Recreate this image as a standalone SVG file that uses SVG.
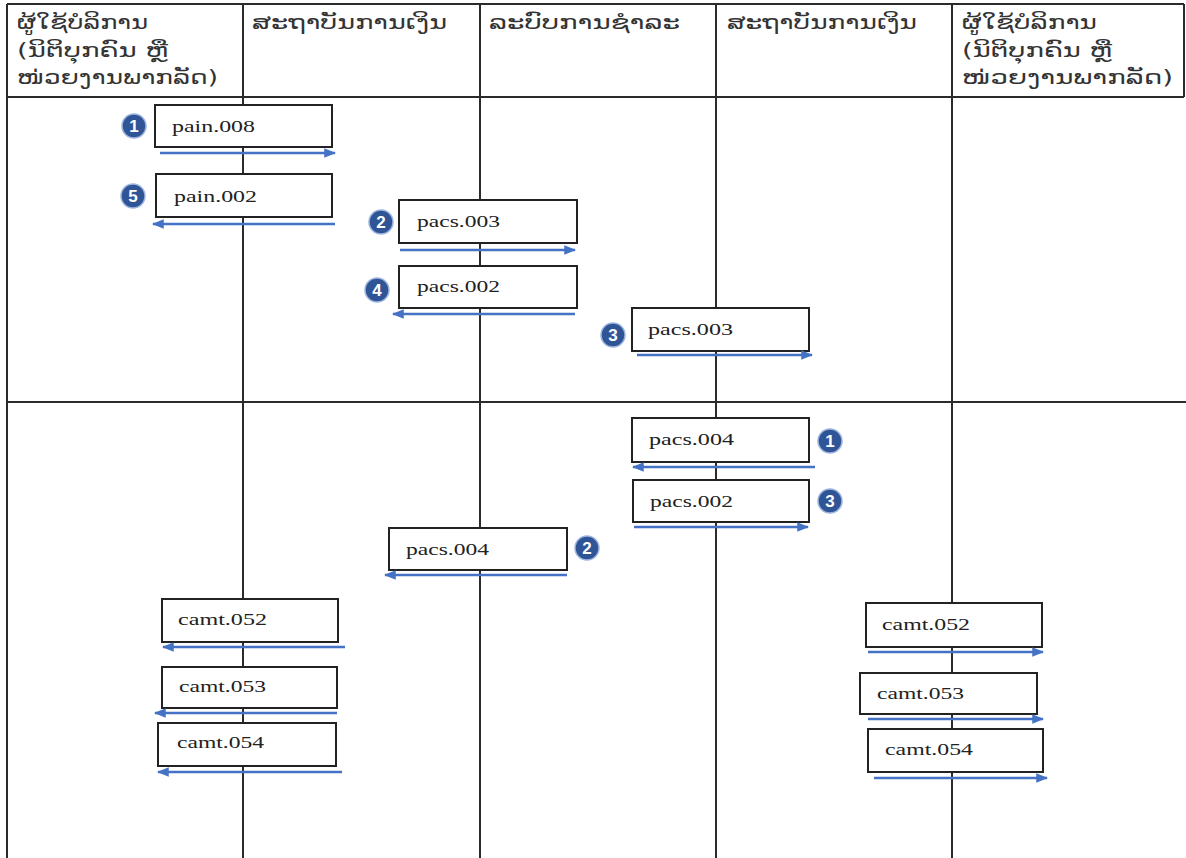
<svg xmlns="http://www.w3.org/2000/svg" width="1186" height="858" viewBox="0 0 1186 858">
<style>
.grid{stroke:#2b2b2b;stroke-width:2;fill:none}
.hdr{font-family:"DejaVu Sans",sans-serif;font-size:19px;fill:#333}
.box{fill:#fff;stroke:#222;stroke-width:2}
.lbl{font-family:"Liberation Serif",serif;font-size:17px;fill:#222}
.arr{stroke:#4472C4;stroke-width:2.6;fill:none;marker-end:url(#ah)}
.bd circle{fill:#2F5597;stroke:#9DB5E0;stroke-width:1.5}
.bd text{font-family:"Liberation Sans",sans-serif;font-size:17px;font-weight:bold;fill:#fff;text-anchor:middle}
</style>
<defs>
<marker id="ah" viewBox="0 0 10 8" refX="9" refY="4" markerWidth="4.6" markerHeight="3.7" orient="auto" markerUnits="strokeWidth">
<path d="M0,0 L10,4 L0,8 Z" fill="#4472C4"/>
</marker>
</defs>
<rect width="1186" height="858" fill="#fff"/>
<g id="table">
<line class="grid" x1="7" y1="4" x2="1184" y2="4"/>
<line class="grid" x1="7" y1="97" x2="1184" y2="97"/>
<line class="grid" x1="7" y1="402" x2="1186" y2="402"/>
<line class="grid" x1="7" y1="4" x2="7" y2="858"/>
<line class="grid" x1="1184" y1="4" x2="1184" y2="97"/>
<line class="grid" x1="243" y1="4" x2="243" y2="858"/>
<line class="grid" x1="480" y1="4" x2="480" y2="858"/>
<line class="grid" x1="716" y1="4" x2="716" y2="858"/>
<line class="grid" x1="952" y1="4" x2="952" y2="858"/>
</g>
<g id="headers">
<text class="hdr" x="17" y="29" textLength="131" lengthAdjust="spacingAndGlyphs">ຜູ້ໃຊ້ບໍລິການ</text>
<text class="hdr" x="17" y="57" textLength="151" lengthAdjust="spacingAndGlyphs">(ນິຕິບຸກຄົນ ຫຼື</text>
<text class="hdr" x="17" y="84" textLength="201" lengthAdjust="spacingAndGlyphs">ໜ່ວຍງານພາກລັດ)</text>
<text class="hdr" x="252" y="29" textLength="195" lengthAdjust="spacingAndGlyphs">ສະຖາບັນການເງິນ</text>
<text class="hdr" x="489" y="29" textLength="191" lengthAdjust="spacingAndGlyphs">ລະບົບການຊໍາລະ</text>
<text class="hdr" x="727" y="29" textLength="190" lengthAdjust="spacingAndGlyphs">ສະຖາບັນການເງິນ</text>
<text class="hdr" x="962" y="29" textLength="135" lengthAdjust="spacingAndGlyphs">ຜູ້ໃຊ້ບໍລິການ</text>
<text class="hdr" x="962" y="57" textLength="150" lengthAdjust="spacingAndGlyphs">(ນິຕິບຸກຄົນ ຫຼື</text>
<text class="hdr" x="962" y="84" textLength="211" lengthAdjust="spacingAndGlyphs">ໜ່ວຍງານພາກລັດ)</text>
</g>
<g id="n-pain008"><rect class="box" x="155" y="105" width="177" height="42"/><text class="lbl" x="172" y="132" textLength="83" lengthAdjust="spacingAndGlyphs">pain.008</text></g>
<g id="n-pain002"><rect class="box" x="156" y="174" width="176" height="43"/><text class="lbl" x="174" y="202" textLength="83" lengthAdjust="spacingAndGlyphs">pain.002</text></g>
<g id="n-pacs003a"><rect class="box" x="399" y="200" width="178" height="43"/><text class="lbl" x="417" y="227" textLength="83" lengthAdjust="spacingAndGlyphs">pacs.003</text></g>
<g id="n-pacs002a"><rect class="box" x="399" y="266" width="178" height="42"/><text class="lbl" x="417" y="292" textLength="83" lengthAdjust="spacingAndGlyphs">pacs.002</text></g>
<g id="n-pacs003b"><rect class="box" x="632" y="308" width="177" height="43"/><text class="lbl" x="648" y="335" textLength="85" lengthAdjust="spacingAndGlyphs">pacs.003</text></g>
<g id="n-pacs004a"><rect class="box" x="632" y="418" width="177" height="44"/><text class="lbl" x="649" y="445" textLength="85" lengthAdjust="spacingAndGlyphs">pacs.004</text></g>
<g id="n-pacs002b"><rect class="box" x="633" y="480" width="176" height="42"/><text class="lbl" x="650" y="507" textLength="83" lengthAdjust="spacingAndGlyphs">pacs.002</text></g>
<g id="n-pacs004b"><rect class="box" x="389" y="528" width="178" height="42"/><text class="lbl" x="406" y="555" textLength="83" lengthAdjust="spacingAndGlyphs">pacs.004</text></g>
<g id="n-camt052a"><rect class="box" x="162" y="599" width="176" height="43"/><text class="lbl" x="178" y="625" textLength="89" lengthAdjust="spacingAndGlyphs">camt.052</text></g>
<g id="n-camt053a"><rect class="box" x="162" y="667" width="175" height="41"/><text class="lbl" x="179" y="692" textLength="87" lengthAdjust="spacingAndGlyphs">camt.053</text></g>
<g id="n-camt054a"><rect class="box" x="158" y="723" width="178" height="43"/><text class="lbl" x="177" y="748" textLength="87" lengthAdjust="spacingAndGlyphs">camt.054</text></g>
<g id="n-camt052b"><rect class="box" x="866" y="603" width="176" height="44"/><text class="lbl" x="882" y="630" textLength="88" lengthAdjust="spacingAndGlyphs">camt.052</text></g>
<g id="n-camt053b"><rect class="box" x="860" y="673" width="177" height="41"/><text class="lbl" x="877" y="699" textLength="87" lengthAdjust="spacingAndGlyphs">camt.053</text></g>
<g id="n-camt054b"><rect class="box" x="868" y="729" width="175" height="43"/><text class="lbl" x="885" y="755" textLength="88" lengthAdjust="spacingAndGlyphs">camt.054</text></g>
<g id="connectors">
<line class="arr" x1="160" y1="153" x2="335" y2="153"/>
<line class="arr" x1="335" y1="224" x2="153" y2="224"/>
<line class="arr" x1="400" y1="250" x2="575" y2="250"/>
<line class="arr" x1="575" y1="314" x2="393" y2="314"/>
<line class="arr" x1="637" y1="355" x2="812" y2="355"/>
<line class="arr" x1="815" y1="467" x2="633" y2="467"/>
<line class="arr" x1="634" y1="527" x2="808" y2="527"/>
<line class="arr" x1="567" y1="575" x2="385" y2="575"/>
<line class="arr" x1="345" y1="647" x2="163" y2="647"/>
<line class="arr" x1="337" y1="713" x2="155" y2="713"/>
<line class="arr" x1="342" y1="772" x2="158" y2="772"/>
<line class="arr" x1="868" y1="652" x2="1043" y2="652"/>
<line class="arr" x1="868" y1="719" x2="1043" y2="719"/>
<line class="arr" x1="874" y1="778" x2="1047" y2="778"/>
</g>
<g id="badges">
<g class="bd"><circle cx="134" cy="126" r="12"/><text x="134" y="132">1</text></g>
<g class="bd"><circle cx="133" cy="196" r="12"/><text x="133" y="202">5</text></g>
<g class="bd"><circle cx="381" cy="222" r="12"/><text x="381" y="228">2</text></g>
<g class="bd"><circle cx="377" cy="290" r="12"/><text x="377" y="296">4</text></g>
<g class="bd"><circle cx="613" cy="335" r="12"/><text x="613" y="341">3</text></g>
<g class="bd"><circle cx="830" cy="441" r="12"/><text x="830" y="447">1</text></g>
<g class="bd"><circle cx="830" cy="501" r="12"/><text x="830" y="507">3</text></g>
<g class="bd"><circle cx="587" cy="548" r="12"/><text x="587" y="554">2</text></g>
</g>
</svg>
